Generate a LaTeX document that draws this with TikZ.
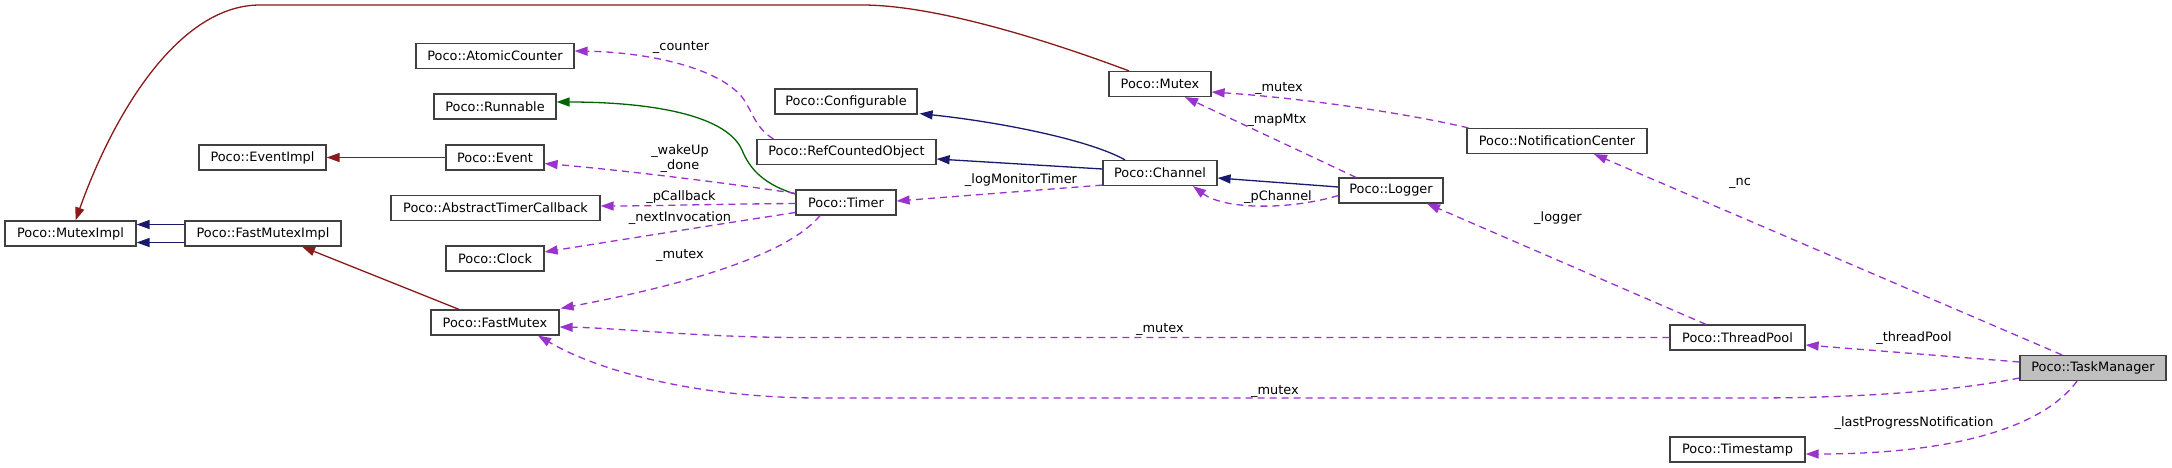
\documentclass[tikz,border=0pt]{standalone}
\usepackage{fontspec}
\setmainfont{DejaVu Sans}
\usetikzlibrary{arrows.meta,calc}
\definecolor{dxred}{HTML}{8B1A1A}
\definecolor{dxblue}{HTML}{191970}
\definecolor{dxgreen}{HTML}{006400}
\definecolor{dxpurple}{HTML}{9A32CD}
\definecolor{dxborder}{HTML}{404040}
\definecolor{dxfill}{HTML}{BFBFBF}
\begin{document}
\begin{tikzpicture}[x=1pt,y=-1pt,
  font=\fontsize{12.9}{15}\selectfont,
  cls/.style={draw=dxborder, line width=1.2pt, fill=white, inner sep=0pt,
    minimum height=25pt, minimum width=#1, anchor=center},
  edgebase/.style={line width=1.3pt, -{Triangle[length=13pt,width=9pt]}},
  redge/.style={edgebase, dxred},
  bedge/.style={edgebase, dxblue},
  gedge/.style={edgebase, dxgreen},
  uedge/.style={edgebase, dxpurple, dash pattern=on 7pt off 5pt},
  lbl/.style={inner sep=0pt, anchor=center, align=center}
]
\useasboundingbox (0,0) rectangle (2172,468);
\fill[white] (0,0) rectangle (2172,468);

% nodes
\node[cls=131pt] (MutexImpl) at (70.5,233.5) {Poco::MutexImpl};
\node[cls=156pt] (FastMutexImpl) at (263,233.5) {Poco::FastMutexImpl};
\node[cls=127pt] (EventImpl) at (262.5,157.5) {Poco::EventImpl};
\node[cls=98pt] (Event) at (495,157.5) {Poco::Event};
\node[cls=122pt] (Runnable) at (495,106.5) {Poco::Runnable};
\node[cls=158pt] (AtomicCounter) at (495,56) {Poco::AtomicCounter};
\node[cls=209pt] (AbstractTimerCallback) at (495.5,208) {Poco::AbstractTimerCallback};
\node[cls=98pt] (Clock) at (495,258.5) {Poco::Clock};
\node[cls=128pt] (FastMutex) at (495,322.5) {Poco::FastMutex};
\node[cls=102pt] (Mutex) at (1160,84) {Poco::Mutex};
\node[cls=142pt] (Configurable) at (846,101.5) {Poco::Configurable};
\node[cls=179pt] (RefCountedObject) at (846.5,152) {Poco::RefCountedObject};
\node[cls=114pt] (Channel) at (1160,173) {Poco::Channel};
\node[cls=100pt] (Timer) at (846,202.5) {Poco::Timer};
\node[cls=104pt] (Logger) at (1391,190.5) {Poco::Logger};
\node[cls=180pt] (NotificationCenter) at (1557,141) {Poco::NotificationCenter};
\node[cls=135pt] (ThreadPool) at (1737.5,337.5) {Poco::ThreadPool};
\node[cls=146pt, fill=dxfill] (TaskManager) at (2093,368) {Poco::TaskManager};
\node[cls=135pt] (Timestamp) at (1737.5,449.5) {Poco::Timestamp};

% inheritance edges
\draw[redge] ($(Mutex.north)+(-31,0)$) .. controls (1060,45) and (940,5) .. (862,5)
  -- (260,5) .. controls (180,5) and (115,110) .. ($(MutexImpl.north)+(5,0)$);
\draw[bedge] ($(FastMutexImpl.west)+(0,-9)$) -- ($(MutexImpl.east)+(0,-9)$);
\draw[bedge] ($(FastMutexImpl.west)+(0,9)$) -- ($(MutexImpl.east)+(0,9)$);
\draw[redge] ($(FastMutex.north)+(-36,0)$) -- ($(FastMutexImpl.south)+(39,0)$);
\draw[redge] (Event.west) -- (EventImpl.east);
\draw[gedge] ($(Timer.north west)+(1,5)$) .. controls (765,185) and (750,170) .. (742,150)
  .. controls (725,112) and (640,102) .. ($(Runnable.east)+(0,-4.5)$);
\draw[bedge] ($(Channel.north)+(-35,0)$) .. controls (1090,140) and (1000,122) .. ($(Configurable.south east)+(2,-1)$);
\draw[bedge] ($(Channel.west)+(0,-4)$) -- ($(RefCountedObject.east)+(0,7)$);
\draw[bedge] ($(Logger.west)+(0,-3.5)$) -- ($(Channel.east)+(0,5)$);

% usage edges
\draw[uedge] ($(RefCountedObject.north west)+(17,0)$) .. controls (755,128) and (752,110) .. (742,97)
  .. controls (715,65) and (640,52) .. ($(AtomicCounter.east)+(0,-5)$);
\node[lbl] (l1) at (681,47) {\_counter};

\draw[uedge] ($(Timer.north west)+(0,4)$) .. controls (720,182) and (620,170) .. ($(Event.east)+(0,6)$);
\node[lbl] (l2) at (680,159) {\_wakeUp\\\_done};

\draw[uedge] ($(Timer.west)+(0,1)$) .. controls (720,204) and (650,206) .. ($(AbstractTimerCallback.east)+(0,-2)$);
\node[lbl] (l3) at (681,197) {\_pCallback};

\draw[uedge] ($(Timer.west)+(0,10)$) .. controls (720,224) and (620,240) .. ($(Clock.east)+(0,-6.5)$);
\node[lbl] (l4) at (680,218) {\_nextInvocation};

\draw[uedge] ($(Timer.south)+(-26,0)$) .. controls (790,252) and (700,282) .. ($(FastMutex.north east)+(1,-1)$);
\node[lbl] (l5) at (680,255) {\_mutex};

\draw[uedge] ($(Channel.south west)+(0,-1)$) -- ($(Timer.east)+(0,-1.5)$);
\node[lbl] (l6) at (1021,180) {\_logMonitorTimer};

\draw[uedge] ($(Logger.west)+(0,5)$) .. controls (1290,210) and (1225,210) .. ($(Channel.south)+(33,0)$);
\node[lbl] (l7) at (1278,197) {\_pChannel};

\draw[uedge] ($(Logger.north)+(-35,0)$) -- ($(Mutex.south)+(25,0)$);
\node[lbl] (l8) at (1277,120) {\_mapMtx};

\draw[uedge] ($(NotificationCenter.north west)+(2,0)$) .. controls (1400,112) and (1300,98) .. ($(Mutex.east)+(0,8)$);
\node[lbl] (l9) at (1279,88) {\_mutex};

\draw[uedge] ($(TaskManager.north)+(-31,0)$) -- ($(NotificationCenter.south)+(37,0)$);
\node[lbl] (l10) at (1740,183) {\_nc};

\draw[uedge] ($(ThreadPool.north)+(-31.5,0)$) -- ($(Logger.south)+(36,0)$);
\node[lbl] (l11) at (1558,218) {\_logger};

\draw[uedge] (ThreadPool.west) -- (800,337.5) .. controls (700,337.5) and (620,328) .. ($(FastMutex.east)+(0,4.5)$);
\node[lbl] (l12) at (1160,329) {\_mutex};

\draw[uedge] ($(TaskManager.west)+(0,10)$) .. controls (1950,392) and (1850,398) .. (1750,398)
  -- (820,398) .. controls (700,398) and (600,372) .. ($(FastMutex.south)+(43,0)$);
\node[lbl] (l13) at (1275,391) {\_mutex};

\draw[uedge] ($(TaskManager.west)+(0,-6)$) -- ($(ThreadPool.east)+(0,7.5)$);
\node[lbl] (l14) at (1914,338) {\_threadPool};

\draw[uedge] ($(TaskManager.south)+(-16,0)$) .. controls (2045,425) and (1960,454) .. ($(Timestamp.east)+(0,4.5)$);
\node[lbl] (l15) at (1914,423) {\_lastProgressNotification};
\end{tikzpicture}
\end{document}
